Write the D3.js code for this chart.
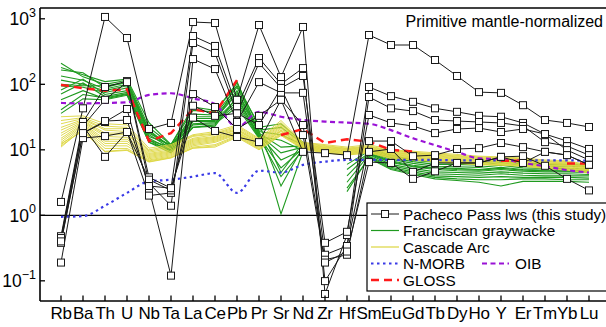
<!DOCTYPE html>
<html>
<head>
<meta charset="utf-8">
<script src="https://cdn.jsdelivr.net/npm/d3@7"></script>
<style>
  html, body { margin: 0; padding: 0; background: #fff; }
  svg { display: block; font-family: "Liberation Sans", Arial, sans-serif; }
</style>
</head>
<body>
<svg id="chart" width="606" height="327"></svg>
<script>
// ---------------- DATA ----------------
const elements = ["Rb","Ba","Th","U","Nb","Ta","La","Ce","Pb","Pr","Sr","Nd","Zr","Hf","Sm","Eu","Gd","Tb","Dy","Ho","Y","Er","Tm","Yb","Lu"];
const yTickValues = [0.1, 1, 10, 100, 1000];
const yTickExponents = ["\u22121", "0", "1", "2", "3"];

// Pacheco Pass lws (this study)
const pachecoPass = [
  [1.6, 43, 1067, 509, 20.8, 25.7, 893, 863, 58, 804, 129, 750, 0.063, 0.5, 91, 66, 54, 43, 38, 33, 32, 25.7, 17.4, 13.6, 10.3],
  [0.48, 26.6, 91, 112, 3.8, 2.6, 546, 385, 45, 252, 101, 177, 0.099, 0.34, 64, 43, 39, 28.5, 27.5, 26.6, 25.7, 23.1, 13.1, 11.4, 8.3],
  [0.42, 23.1, 58, 108, 3.1, 1.4, 427, 301, 36, 211, 88, 134, 0.38, 0.56, 34, 25.7, 23.1, 18, 20.8, 21.5, 18.7, 20.8, 17.4, 9.9, 7.0],
  [0.38, 18, 26.6, 42, 2.5, 0.12, 243, 171, 26.6, 108, 74, 74, 0.25, 0.34, 13.6, 13.6, 8.0, 8.3, 10.3, 10.6, 12.7, 11.0, 9.3, 8.3, 5.9],
  [0.19, 15.1, 16.2, 18.7, 2.0, 2.2, 71, 45, 20.8, 33, 58, 23.9, 0.21, 0.25, 9.3, 10.3, 4.6, 6.3, 6.3, 6.3, 7.8, 8.0, 5.7, 3.6, 2.4],
  [0.45, 23.1, 7.8, 18.7, 3.5, 2.4, 47, 33, 36, 23.9, 88, 16.8, 0.19, 0.28, 6.5, 6.3, 3.6, 4.7, 6.3, 6.3, 7.8, 6.3, 9.3, 8.3, 5.9],
  [0.40, 18, 27.5, 28.5, 2.8, 2.6, 31, 19.4, 15.7, 13.1, 58, 9.3, 8.9, 8.3, 566, 398, 398, 235, 134, 76, 74, 48, 28.5, 25.7, 22.3]
];

// Franciscan graywacke
const franciscan = [
  [210, 130, 100, 115, 22, 12, 40, 38, 105, 22, 25, 13, null, null, 10, 8.0, 7.0, 6.4, 6.3, 6.2, 6.8, 6.0, 5.9, 5.9, 5.8],
  [165, 150, 90, 108, 20, 11, 35, 34, 90, 20, 22, 12.5, null, 6.0, 9.6, 7.6, 6.6, 6.0, 6.0, 5.8, 6.4, 5.7, 5.6, 5.6, 5.5],
  [134, 115, 85, 100, 18, 11.5, 32, 32, 80, 19, 17, 12, null, null, 9.2, 7.2, 6.2, 5.6, 5.5, 5.4, 5.8, 5.3, 5.2, 5.2, 5.1],
  [116, 100, 80, 95, 17, 10.5, 30, 30, 70, 18, 11, 11.5, null, 5.0, 9.0, 6.8, 5.8, 5.3, 5.2, 5.0, 5.4, 5.0, 4.9, 4.9, 4.8],
  [94, 90, 75, 88, 16, 12, 28, 28, 60, 17, 9, 11, null, null, 8.6, 6.4, 5.5, 5.0, 4.8, 4.7, 5.0, 4.7, 4.6, 4.6, 4.5],
  [82, 120, 70, 80, 15, 10, 27, 27, 55, 16, 5.3, 10.5, null, 3.2, 8.4, 6.0, 5.2, 4.6, 4.5, 4.4, 4.6, 4.4, 4.3, 4.3, 4.2],
  [71, 105, 65, 75, 14, 11, 25, 26, 50, 15.5, 3.9, 10, null, null, 8.0, 5.7, 4.9, 4.3, 4.2, 4.1, 4.3, 4.1, 4.0, 4.0, 4.0],
  [58, 80, 60, 70, 14, 9.5, 24, 25, 45, 15, 1.05, 9.5, null, 2.3, 7.8, 5.4, 4.6, 4.0, 3.9, 3.8, 3.9, 3.8, 3.8, 3.8, 3.7],
  [41, 70, 62, 72, 13, 10, 22, 24, 110, 17, 7, 10, null, null, 7.6, 5.2, 4.4, 3.8, 3.6, 3.5, 3.5, 3.6, 3.6, 3.5, 3.5],
  [36, 60, 58, 68, 13, 9, 22, 23, 65, 16, 14, 9.8, null, 2.6, 7.4, 5.0, 4.2, 3.6, 3.4, 3.2, 2.8, 3.3, 3.3, 3.3, 3.2],
  [180, 140, 110, 120, 26, 12, 45, 40, 95, 24, 4.5, 12.7, null, null, 10.5, 8.3, 7.0, 6.5, 6.5, 6.3, 7.0, 6.2, 6.1, 6.0, 6.0],
  [100, 95, 95, 105, 19, 11, 30, 30, 75, 19, 2.8, 11, null, 4.0, 8.8, 6.6, 5.6, 5.2, 5.0, 4.9, 5.2, 4.9, 4.8, 4.7, 4.6]
];

// Cascade Arc
const cascadeArc = [
  [32, 33, 25, 24, 10.6, 12, 17, 19, 24, 15, 28, 13, 12, 11, 12, 10, 9.5, 9, 8.5, 8, 7.8, 7.5, 7, 6.8, 5.9],
  [28, 31, 23, 22, 10, 11.5, 16.5, 18, 23, 14.5, 26, 12.8, 11.6, 10.6, 11.5, 9.7, 9.2, 8.7, 8.2, 7.8, 7.5, 7.3, 6.8, 6.6, 5.7],
  [25, 30, 21, 21, 9.6, 11, 16, 17.5, 22, 14, 25, 12.5, 11.3, 10.4, 11.2, 9.5, 9.0, 8.5, 8.0, 7.6, 7.4, 7.1, 6.7, 6.4, 5.6],
  [22, 29, 20, 19, 9.2, 10.5, 15, 17, 21, 13.5, 24, 12.2, 11.0, 10.2, 11.0, 9.2, 8.8, 8.3, 7.8, 7.4, 7.2, 6.9, 6.5, 6.3, 5.4],
  [20, 28, 18, 18, 8.8, 10, 14.5, 16, 20.5, 13, 23, 12, 10.8, 10.0, 10.7, 9.0, 8.6, 8.1, 7.6, 7.2, 7.0, 6.8, 6.3, 6.1, 5.3],
  [18, 27, 17, 17, 8.5, 9.6, 14, 15.5, 20, 12.6, 22, 11.8, 10.5, 9.8, 10.5, 8.8, 8.4, 7.9, 7.4, 7.0, 6.9, 6.6, 6.2, 6.0, 5.2],
  [16.5, 26, 16, 15.5, 8.2, 9.3, 13.5, 15, 19, 12.3, 21, 11.6, 10.3, 9.6, 10.2, 8.6, 8.2, 7.7, 7.2, 6.9, 6.8, 6.5, 6.1, 5.9, 5.1],
  [15, 25, 14.5, 14.5, 7.9, 9, 13, 14.5, 18.5, 12, 20, 11.4, 10.1, 9.4, 10.0, 8.4, 8.0, 7.5, 7.0, 6.7, 6.6, 6.3, 5.9, 5.7, 5.0],
  [14, 24, 13.5, 13.5, 7.6, 8.7, 12.5, 14, 18, 11.6, 19.5, 11.2, 9.9, 9.2, 9.8, 8.2, 7.8, 7.3, 6.9, 6.6, 6.5, 6.2, 5.8, 5.6, 4.9],
  [13, 23, 12.5, 12.5, 7.3, 8.4, 12, 13.5, 17.5, 11.3, 19, 11, 9.7, 9.0, 9.6, 8.0, 7.6, 7.1, 6.7, 6.4, 6.3, 6.0, 5.6, 5.4, 4.8],
  [12, 22, 11.5, 11.5, 7, 8.1, 11.5, 13, 17, 11, 18, 10.8, 9.5, 8.8, 9.5, 7.9, 7.5, 7.0, 6.6, 6.3, 6.2, 5.9, 5.5, 5.3, 4.7],
  [11, 21, 10.5, 10.5, 6.8, 7.8, 11, 12, 16.5, 10.6, 17.5, 10.6, 9.3, 8.6, 9.3, 7.7, 7.3, 6.8, 6.5, 6.1, 6.0, 5.8, 5.4, 5.2, 4.6],
  [11.5, 20, 9.5, 10, 6.6, 7.6, 10.6, 11.5, 16, 10.3, 17, 10.4, 9.1, 8.4, 9.1, 7.5, 7.1, 6.7, 6.3, 6.0, 5.9, 5.7, 5.3, 5.0, 4.5],
  [12.5, 19, 9.3, 9.8, 6.5, 7.5, 10.6, 11, 15.5, 10, 16.5, 10.2, 9.0, 8.3, 9.0, 7.4, 7.0, 6.6, 6.2, 5.9, 5.8, 5.6, 5.2, 4.9, 4.4]
];

const nMorb = [0.95, 0.97, 1.4, 2.2, 3.3, 3.5, 3.9, 4.4, 2.2, 4.8, 4.5, 5.9, 6.6, 7.0, 7.0, 7.0, 7.0, 7.0, 6.9, 6.9, 6.9, 6.9, 6.9, 6.9, 6.8];
const oib = [52, 51, 52, 53, 69, 73, 61, 50, 22, 38, 32, 28.5, 27, 26, 25, 20, 15, 11.8, 9.3, 7.4, 7.2, 6.3, 5.6, 4.9, 4.5];
const gloss = [98, 87, 80, 84, 13.6, 18, 41.6, 36, 116, null, 16.8, 20.8, 12.7, 14.5, 13.3, 10, 9.4, null, null, null, 6.8, 6.8, null, 6.2, 6.2];

const titleText = "Primitive mantle-normalized";
const legendLabels = ["Pacheco Pass lws (this study)", "Franciscan graywacke", "Cascade Arc", "N-MORB", "OIB", "GLOSS"];

// ---------------- CHART ----------------
const svg = d3.select("#chart");
const L = 40, R = 610, T = 8, B = 301;

const x = d3.scalePoint().domain(elements).range([61, 589]);
const y = d3.scaleLog().domain([0.0492, 1462]).range([B, T]);

const col = {
  green: "#1f9a1f",
  yellow: "#dcd640",
  blue: "#3a3ae6",
  purple: "#9a12d6",
  red: "#ff1a1a",
  black: "#1a1a1a"
};

svg.append("defs").append("clipPath").attr("id", "clip")
  .append("rect").attr("x", L).attr("y", T).attr("width", R - L).attr("height", B - T);

const plot = svg.append("g").attr("clip-path", "url(#clip)");

// line at 1
plot.append("line").attr("x1", L).attr("x2", R).attr("y1", y(1)).attr("y2", y(1))
  .attr("stroke", "#000").attr("stroke-width", 1.2);

const lineGen = d3.line()
  .defined(d => d != null)
  .x((d, i) => x(elements[i]))
  .y(d => y(d));

const smoothGen = d3.line()
  .defined(d => d != null)
  .x((d, i) => x(elements[i]))
  .y(d => y(d))
  .curve(d3.curveMonotoneX);

// Franciscan graywacke
plot.append("g").selectAll("path").data(franciscan).join("path")
  .attr("d", lineGen).attr("fill", "none").attr("stroke", col.green).attr("stroke-width", 1.1);

// Cascade Arc
plot.append("g").selectAll("path").data(cascadeArc).join("path")
  .attr("d", lineGen).attr("fill", "none").attr("stroke", col.yellow).attr("stroke-width", 0.9);

// Reference lines
plot.append("path").datum(nMorb).attr("d", smoothGen).attr("fill", "none")
  .attr("stroke", col.blue).attr("stroke-width", 2.2).attr("stroke-dasharray", "2.5,3.5");
plot.append("path").datum(oib).attr("d", smoothGen).attr("fill", "none")
  .attr("stroke", col.purple).attr("stroke-width", 2.2).attr("stroke-dasharray", "5,3.5");
plot.append("path").datum(gloss).attr("d", lineGen).attr("fill", "none")
  .attr("stroke", col.red).attr("stroke-width", 2.5).attr("stroke-dasharray", "8,5");

// Pacheco Pass
const pg = plot.append("g");
pg.selectAll("path").data(pachecoPass).join("path")
  .attr("d", lineGen).attr("fill", "none").attr("stroke", col.black).attr("stroke-width", 1);
pachecoPass.forEach(s => {
  pg.append("g").selectAll("rect")
    .data(s.map((v, i) => ({ v, i })).filter(d => d.v != null))
    .join("rect")
    .attr("x", d => x(elements[d.i]) - 3.5)
    .attr("y", d => y(d.v) - 3.5)
    .attr("width", 7).attr("height", 7)
    .attr("fill", "#fff").attr("stroke", col.black).attr("stroke-width", 1);
});

// Frame
const frame = svg.append("g").attr("stroke", "#000").attr("stroke-width", 1.6).attr("fill", "none");
frame.append("line").attr("x1", L).attr("x2", R).attr("y1", T).attr("y2", T);
frame.append("line").attr("x1", L).attr("x2", L).attr("y1", T).attr("y2", B);
frame.append("line").attr("x1", L).attr("x2", R).attr("y1", B).attr("y2", B);

// Y axis ticks (inward) and labels
const yAxis = svg.append("g");
yAxis.selectAll("line").data(yTickValues).join("line")
  .attr("x1", L).attr("x2", L + 5)
  .attr("y1", d => y(d)).attr("y2", d => y(d))
  .attr("stroke", "#000").attr("stroke-width", 1.3);
yTickValues.forEach((v, i) => {
  const t = yAxis.append("text")
    .attr("x", 36).attr("y", y(v) + 6.5)
    .attr("text-anchor", "end")
    .attr("font-size", 17.5).attr("fill", "#000");
  t.append("tspan").text("10");
  t.append("tspan").attr("font-size", 12.5).attr("dy", -8.5).text(yTickExponents[i]);
});

// X axis ticks (inward) and labels
const xAxis = svg.append("g");
xAxis.selectAll("line").data(elements).join("line")
  .attr("x1", d => x(d)).attr("x2", d => x(d))
  .attr("y1", B).attr("y2", B - 5.5)
  .attr("stroke", "#000").attr("stroke-width", 1.3);
xAxis.selectAll("text").data(elements).join("text")
  .attr("x", d => x(d)).attr("y", 319)
  .attr("text-anchor", "middle")
  .attr("font-size", 17).attr("letter-spacing", -0.3).attr("fill", "#000")
  .text(d => d);

// Title
svg.append("text").attr("x", 603).attr("y", 26.5).attr("text-anchor", "end")
  .attr("font-size", 16).attr("fill", "#000").text(titleText);

// Legend
const lg = svg.append("g");
lg.append("rect").attr("x", 367).attr("y", 203).attr("width", 250).attr("height", 88)
  .attr("fill", "#fff").attr("stroke", "#000").attr("stroke-width", 1.2);
const rows = [214, 230.5, 247, 263.5, 280];
const lx1 = 371, lx2 = 399, tx = 403;
// row 1
lg.append("line").attr("x1", lx1).attr("x2", lx2).attr("y1", rows[0]).attr("y2", rows[0])
  .attr("stroke", col.black).attr("stroke-width", 1);
lg.append("rect").attr("x", 385 - 3.5).attr("y", rows[0] - 3.5).attr("width", 7).attr("height", 7)
  .attr("fill", "#fff").attr("stroke", col.black);
// row 2
lg.append("line").attr("x1", lx1).attr("x2", lx2).attr("y1", rows[1]).attr("y2", rows[1])
  .attr("stroke", col.green).attr("stroke-width", 1.2);
// row 3
lg.append("line").attr("x1", lx1).attr("x2", lx2).attr("y1", rows[2]).attr("y2", rows[2])
  .attr("stroke", col.yellow).attr("stroke-width", 1.2);
// row 4
lg.append("line").attr("x1", lx1).attr("x2", lx2).attr("y1", rows[3]).attr("y2", rows[3])
  .attr("stroke", col.blue).attr("stroke-width", 2.2).attr("stroke-dasharray", "2.5,3.5");
lg.append("line").attr("x1", 482).attr("x2", 509).attr("y1", rows[3]).attr("y2", rows[3])
  .attr("stroke", col.purple).attr("stroke-width", 2.2).attr("stroke-dasharray", "5,3.5");
// row 5
lg.append("line").attr("x1", lx1).attr("x2", lx2).attr("y1", rows[4]).attr("y2", rows[4])
  .attr("stroke", col.red).attr("stroke-width", 2.5).attr("stroke-dasharray", "8,5");

const legendTextPos = [
  [tx, rows[0]], [tx, rows[1]], [tx, rows[2]], [tx, rows[3]], [515, rows[3]], [tx, rows[4]]
];
legendLabels.forEach((lab, i) => {
  lg.append("text").attr("x", legendTextPos[i][0]).attr("y", legendTextPos[i][1] + 5.5)
    .attr("font-size", 15.3).attr("fill", "#000").text(lab);
});
</script>
</body>
</html>
